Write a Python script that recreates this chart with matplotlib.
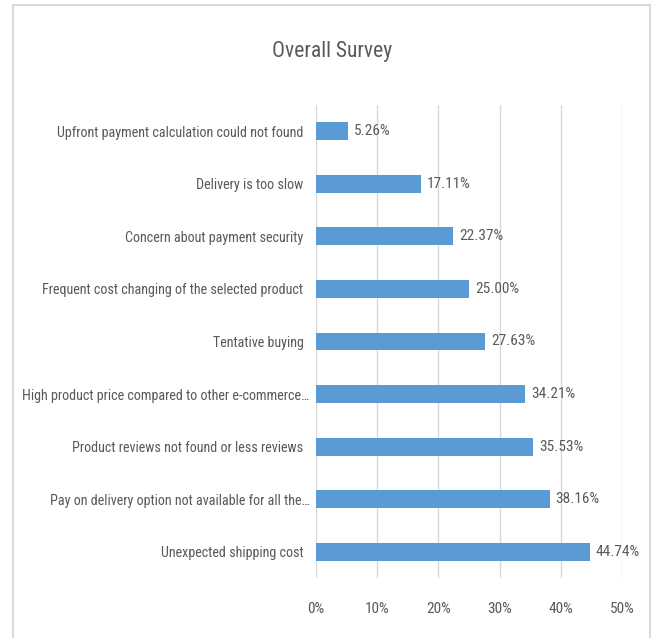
import matplotlib
matplotlib.use("Agg")
from matplotlib import pyplot as plt, font_manager
from matplotlib.patches import Rectangle
from matplotlib.ticker import PercentFormatter
from matplotlib.transforms import ScaledTranslation
import numpy as np

categories = [
    "Upfront payment calculation could not found",
    "Delivery is too slow",
    "Concern about payment security",
    "Frequent cost changing of the selected product",
    "Tentative buying",
    "High product price compared to other e-commerce\u2026",
    "Product reviews not found or less reviews",
    "Pay on delivery option not available for all the\u2026",
    "Unexpected shipping cost",
]
values = [5.26, 17.11, 22.37, 25.00, 27.63, 34.21, 35.53, 38.16, 44.74]
xticks = [0, 10, 20, 30, 40, 50]

bar_color = "#5B9BD5"
text_color = "#595959"
grid_color = "#D9D9D9"

# pick a narrow font if one is installed
installed = {f.name for f in font_manager.fontManager.ttflist}
narrow = [f for f in ["Liberation Sans Narrow", "Roboto Condensed", "Open Sans Condensed",
                      "DejaVu Sans Condensed"] if f in installed]
if narrow:
    plt.rcParams["font.family"] = [narrow[0], "DejaVu Sans"]
else:
    plt.rcParams["font.family"] = ["DejaVu Sans"]
    plt.rcParams["font.stretch"] = "condensed"

fig = plt.figure(figsize=(6.51, 6.38), dpi=100)
ax = fig.add_axes([316 / 651, 1 - 578 / 638, 306 / 651, 473 / 638])

ind = np.arange(len(categories))
rects = ax.barh(ind, values, height=0.34, color=bar_color, zorder=3)
ax.set_ylim(len(categories) - 0.5, -0.5)
ax.set_xlim(0, 50)
ax.set_xticks(xticks)
ax.xaxis.set_major_formatter(PercentFormatter(decimals=0))
ax.set_yticks(ind)
ax.set_yticklabels(categories)

ax.grid(axis="x", color=grid_color, linewidth=1, zorder=0)
for s in ax.spines.values():
    s.set_visible(False)
ax.tick_params(axis="both", length=0, colors=text_color)
ax.tick_params(axis="x", pad=17, labelsize=11)
ax.tick_params(axis="y", pad=9, labelsize=10.2)

# truncated labels sit closer to the bars (like excel does)
for lbl in ax.get_yticklabels():
    if lbl.get_text().endswith("\u2026"):
        lbl.set_transform(lbl.get_transform() + ScaledTranslation(6 / 100, 0, fig.dpi_scale_trans))

# value labels next to each bar
for rect, v in zip(rects, values):
    ax.text(rect.get_width() + 1.0, rect.get_y() + rect.get_height() / 2,
            f"{v:.2f}%", ha="left", va="center", color=text_color, fontsize=11)

fig.text(332 / 651, 1 - 52 / 638, "Overall Survey", ha="center", va="center",
         color=text_color, fontsize=15.5)

# chart border
fig.patches.append(Rectangle((12.5 / 651, -0.05), (650 - 12.5) / 651, 1 - 5 / 638 + 0.05,
                             transform=fig.transFigure, fill=False,
                             edgecolor=grid_color, linewidth=1.5))

plt.savefig("out.png", dpi=100)
